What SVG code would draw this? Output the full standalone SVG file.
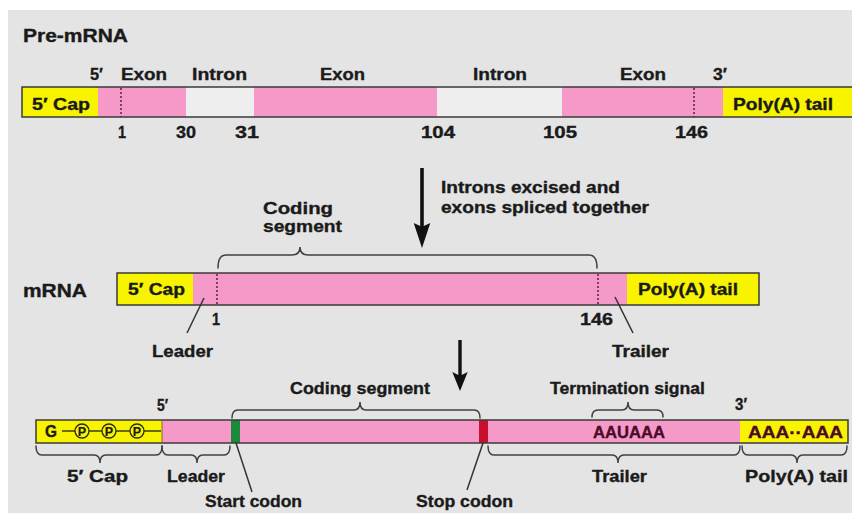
<svg xmlns="http://www.w3.org/2000/svg" width="852" height="513" viewBox="0 0 852 513">
<defs>
<style>
text{font-family:"Liberation Sans",Arial,sans-serif;font-weight:bold;fill:#1a1a1a;font-size:16.5px;stroke:#1a1a1a;stroke-width:0.35}
.big{font-size:17.5px}
.sm{font-size:12.5px;stroke-width:0.2}
.bar{stroke:#3a3a3a;stroke-width:1.5}
.cap{fill:#f8f400}
.pink{fill:#f59ac8}
.intron{fill:#eeeeee}
.dot{stroke:#5a2040;stroke-width:1.5;stroke-dasharray:2 2}
.brace{fill:none;stroke:#404040;stroke-width:1.5;stroke-linecap:round}
.ptr{stroke:#333;stroke-width:1.5}
.arrow{fill:#111}
.dark{fill:#4a0a28;stroke:#4a0a28}
</style>
</defs>
<rect x="0" y="0" width="852" height="513" fill="#ffffff"/>
<rect x="8" y="10" width="844" height="503" fill="#e4e4e4"/>

<g id="premrna">
<text class="big" x="23" y="42" textLength="105" lengthAdjust="spacingAndGlyphs">Pre-mRNA</text>
<rect class="cap" x="22" y="87" width="76" height="30"/>
<rect class="pink" x="98" y="87" width="88" height="30"/>
<rect class="intron" x="186" y="87" width="68" height="30"/>
<rect class="pink" x="254" y="87" width="183" height="30"/>
<rect class="intron" x="437" y="87" width="125" height="30"/>
<rect class="pink" x="562" y="87" width="161" height="30"/>
<rect class="cap" x="723" y="87" width="135" height="30"/>
<rect x="22" y="87" width="840" height="30" fill="none" class="bar"/>
<line class="dot" x1="121" y1="88" x2="121" y2="117"/>
<line class="dot" x1="694" y1="88" x2="694" y2="117"/>
<text x="90" y="80" textLength="13" lengthAdjust="spacingAndGlyphs">5′</text>
<text x="121" y="80" textLength="46" lengthAdjust="spacingAndGlyphs">Exon</text>
<text x="192" y="80" textLength="55" lengthAdjust="spacingAndGlyphs">Intron</text>
<text x="320" y="80" textLength="45" lengthAdjust="spacingAndGlyphs">Exon</text>
<text x="473" y="80" textLength="54" lengthAdjust="spacingAndGlyphs">Intron</text>
<text x="620" y="80" textLength="46" lengthAdjust="spacingAndGlyphs">Exon</text>
<text x="713" y="80" textLength="14" lengthAdjust="spacingAndGlyphs">3′</text>
<text x="32" y="110" textLength="58" lengthAdjust="spacingAndGlyphs">5′ Cap</text>
<text x="733" y="110" textLength="100" lengthAdjust="spacingAndGlyphs">Poly(A) tail</text>
<text x="118" y="138" textLength="8" lengthAdjust="spacingAndGlyphs">1</text>
<text x="176" y="138" textLength="20" lengthAdjust="spacingAndGlyphs">30</text>
<text x="235" y="138" textLength="24" lengthAdjust="spacingAndGlyphs">31</text>
<text x="421" y="138" textLength="34" lengthAdjust="spacingAndGlyphs">104</text>
<text x="543" y="138" textLength="34" lengthAdjust="spacingAndGlyphs">105</text>
<text x="675" y="138" textLength="33" lengthAdjust="spacingAndGlyphs">146</text>
</g>

<g id="step1">
<text x="441" y="193" textLength="179" lengthAdjust="spacingAndGlyphs">Introns excised and</text>
<text x="441" y="213" textLength="208" lengthAdjust="spacingAndGlyphs">exons spliced together</text>
</g>

<g id="mrna">
<text class="big" x="23" y="297" textLength="64" lengthAdjust="spacingAndGlyphs">mRNA</text>
<text x="263" y="214" textLength="70" lengthAdjust="spacingAndGlyphs">Coding</text>
<text x="263" y="232" textLength="79" lengthAdjust="spacingAndGlyphs">segment</text>
<rect class="cap" x="117" y="273" width="76" height="32"/>
<rect class="pink" x="193" y="273" width="434" height="32"/>
<rect class="cap" x="627" y="273" width="132" height="32"/>
<rect x="117" y="273" width="642" height="32" fill="none" class="bar"/>
<line class="dot" x1="217" y1="274" x2="217" y2="305"/>
<line class="dot" x1="598" y1="274" x2="598" y2="305"/>
<text x="128" y="295" textLength="57" lengthAdjust="spacingAndGlyphs">5′ Cap</text>
<text x="638" y="295" textLength="100" lengthAdjust="spacingAndGlyphs">Poly(A) tail</text>
<text x="212" y="325" textLength="8" lengthAdjust="spacingAndGlyphs">1</text>
<text x="580" y="325" textLength="33" lengthAdjust="spacingAndGlyphs">146</text>
<text x="152" y="357" textLength="61" lengthAdjust="spacingAndGlyphs">Leader</text>
<text x="612" y="357" textLength="57" lengthAdjust="spacingAndGlyphs">Trailer</text>
</g>

<g id="mature">
<rect class="cap" x="36" y="420" width="126" height="23"/>
<rect class="pink" x="162" y="420" width="578" height="23"/>
<rect class="cap" x="740" y="420" width="108" height="23"/>
<rect x="231" y="420" width="9" height="23" fill="#1a8a3a"/>
<rect x="479" y="420" width="9" height="23" fill="#c8102e"/>
<rect x="36" y="420" width="812" height="23" fill="none" class="bar"/>
<line x1="162" y1="420" x2="162" y2="443" stroke="#7a6a30" stroke-width="1"/>
<line x1="62" y1="431" x2="161" y2="431" stroke="#3a3a1a" stroke-width="1.3"/>
<g stroke="#2a2a10" stroke-width="1.3" fill="#f8f400">
<circle cx="82" cy="431" r="7"/>
<circle cx="109" cy="431" r="7"/>
<circle cx="137" cy="431" r="7"/>
</g>
<text x="45" y="437" textLength="12" lengthAdjust="spacingAndGlyphs">G</text>
<text class="sm" x="82" y="435.5" text-anchor="middle">P</text>
<text class="sm" x="109" y="435.5" text-anchor="middle">P</text>
<text class="sm" x="137" y="435.5" text-anchor="middle">P</text>
<text x="157" y="411" textLength="11" lengthAdjust="spacingAndGlyphs">5′</text>
<text x="735" y="410" textLength="12" lengthAdjust="spacingAndGlyphs">3′</text>
<text x="290" y="394" textLength="140" lengthAdjust="spacingAndGlyphs">Coding segment</text>
<text x="550" y="394" textLength="155" lengthAdjust="spacingAndGlyphs">Termination signal</text>
<text class="dark" x="593" y="438" textLength="72" lengthAdjust="spacingAndGlyphs">AAUAAA</text>
<text class="dark" x="748" y="438" textLength="95" lengthAdjust="spacingAndGlyphs">AAA··AAA</text>
<text x="67" y="482" textLength="61" lengthAdjust="spacingAndGlyphs">5′ Cap</text>
<text x="167" y="482" textLength="58" lengthAdjust="spacingAndGlyphs">Leader</text>
<text x="592" y="482" textLength="55" lengthAdjust="spacingAndGlyphs">Trailer</text>
<text x="745" y="482" textLength="103" lengthAdjust="spacingAndGlyphs">Poly(A) tail</text>
<text x="205" y="507" textLength="97" lengthAdjust="spacingAndGlyphs">Start codon</text>
<text x="416" y="507" textLength="97" lengthAdjust="spacingAndGlyphs">Stop codon</text>
</g>

<g id="connectors">
<path class="arrow" d="M420.2,168 h3.6 v58 l6.5,-3 l-8.3,25 l-8.3,-25 l6.5,3 z"/>
<path class="arrow" d="M458.3,340 h3.4 v35 l6,-3 l-7.7,19 l-7.7,-19 l6,3 z"/>
<path class="brace" d="M218,268 Q218,255 226,255 L292,255 Q300,255 300,247 Q300,255 308,255 L589,255 Q597,255 597,268"/>
<path class="brace" d="M232,418 Q232,410 238,410 L354,410 Q360,410 360,402 Q360,410 366,410 L474,410 Q480,410 480,418"/>
<path class="brace" d="M592,417 Q592,410 598,410 L622,410 Q628,410 628,402 Q628,410 634,410 L657,410 Q663,410 663,417"/>
<path class="brace" d="M36,446 Q36,455 42,455 L94,455 Q100,455 100,463 Q100,455 106,455 L156,455 Q162,455 162,446"/>
<path class="brace" d="M162,446 Q162,455 168,455 L191,455 Q197,455 197,463 Q197,455 203,455 L224,455 Q230,455 230,446"/>
<path class="brace" d="M488,446 Q488,455 494,455 L612,455 Q618,455 618,463 Q618,455 624,455 L734,455 Q740,455 740,446"/>
<path class="brace" d="M742,446 Q742,455 748,455 L791,455 Q797,455 797,463 Q797,455 803,455 L841,455 Q847,455 847,446"/>
<line class="ptr" x1="204" y1="298" x2="187" y2="333"/>
<line class="ptr" x1="615" y1="297" x2="633" y2="333"/>
<line class="ptr" x1="236" y1="443" x2="252" y2="492"/>
<line class="ptr" x1="483" y1="443" x2="467" y2="490"/>
</g>
</svg>
